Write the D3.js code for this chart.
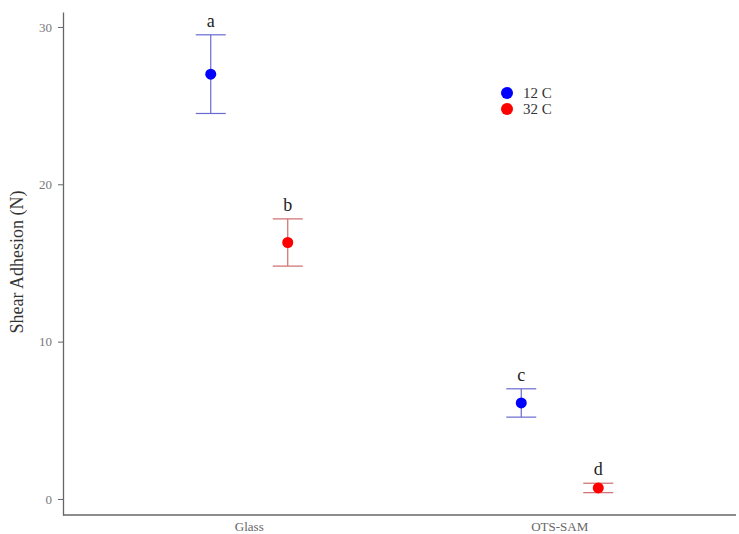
<!DOCTYPE html>
<html>
<head>
<meta charset="utf-8">
<script src="https://cdn.jsdelivr.net/npm/d3@7"></script>
<style>
  body { margin: 0; background: #fff; }
  svg { display: block; }
  text { font-family: "Liberation Serif", "Times New Roman", "DejaVu Serif", serif; }
</style>
</head>
<body>
<svg width="739" height="534"></svg>
<script>
var surfaces = ["Glass", "OTS-SAM"]
var temps = ["12 C", "32 C"]
var means = [[27.0, 16.3], [6.1, 0.7]]      // [surface][temp]
var upper = [[29.5, 17.8], [7.0, 1.0]]
var lower = [[24.5, 14.8], [5.2, 0.4]]
var letters = [["a", "b"], ["c", "d"]]
var yTicks = [0, 10, 20, 30]

var svg = d3.select("svg"),
    width = +svg.attr("width"),
    height = +svg.attr("height");

var serif = '"Liberation Serif", "Times New Roman", "DejaVu Serif", serif'
var dotColor = ["#0000ff", "#ff0000"]
var barColor = ["#6a6ad0", "#d06a6a"]

var x = d3.scalePoint().domain(surfaces).range([94, 715]).padding(0.5)
var dodge = d3.scalePoint().domain(temps).range([-38.5, 38.5])
var y = d3.scaleLinear().domain([-1.02, 30.95]).range([515, 12])

// flatten for drawing
var rows = []
surfaces.forEach(function (s, i) {
    temps.forEach(function (t, j) {
        rows.push({ s: s, t: t, j: j, m: means[i][j], hi: upper[i][j], lo: lower[i][j], lab: letters[i][j] })
    })
})

// y axis
var yAxis = svg.append("g")
    .attr("transform", "translate(63,0)")
    .call(d3.axisLeft(y).tickValues(yTicks).tickSize(5).tickSizeOuter(0).tickPadding(6))
yAxis.select(".domain").attr("stroke", "#666").attr("stroke-width", 1.3)
yAxis.selectAll(".tick line").attr("stroke", "#666")
yAxis.selectAll(".tick text")
    .attr("fill", "#777")
    .style("font-family", serif)
    .style("font-size", "13px")

// x axis line + labels
svg.append("line")
    .attr("x1", 63).attr("x2", 736)
    .attr("y1", y(-1.02)).attr("y2", y(-1.02))
    .attr("stroke", "#666").attr("stroke-width", 1.3)

svg.append("g").selectAll("text")
    .data(surfaces)
    .enter().append("text")
    .attr("x", d => x(d))
    .attr("y", 531)
    .attr("text-anchor", "middle")
    .attr("fill", "#666")
    .style("font-family", serif)
    .style("font-size", "13px")
    .text(d => d)

// y title
svg.append("text")
    .attr("transform", "translate(23," + 262 + ") rotate(-90)")
    .attr("text-anchor", "middle")
    .attr("fill", "#333")
    .style("font-family", serif)
    .style("font-size", "18px")
    .text("Shear Adhesion (N)")

// error bars
var eb = svg.append("g").selectAll("g")
    .data(rows)
    .enter().append("g")
    .attr("stroke", d => barColor[d.j])
    .attr("stroke-width", 1.2)
eb.append("line")
    .attr("x1", d => x(d.s) + dodge(d.t)).attr("x2", d => x(d.s) + dodge(d.t))
    .attr("y1", d => y(d.hi)).attr("y2", d => y(d.lo))
eb.append("line")
    .attr("x1", d => x(d.s) + dodge(d.t) - 15).attr("x2", d => x(d.s) + dodge(d.t) + 15)
    .attr("y1", d => y(d.hi)).attr("y2", d => y(d.hi))
eb.append("line")
    .attr("x1", d => x(d.s) + dodge(d.t) - 15).attr("x2", d => x(d.s) + dodge(d.t) + 15)
    .attr("y1", d => y(d.lo)).attr("y2", d => y(d.lo))

// points
svg.append("g").selectAll("circle")
    .data(rows)
    .enter().append("circle")
    .attr("cx", d => x(d.s) + dodge(d.t))
    .attr("cy", d => y(d.m))
    .attr("r", 5.5)
    .attr("fill", d => dotColor[d.j])

// significance letters
svg.append("g").selectAll("text")
    .data(rows)
    .enter().append("text")
    .attr("x", d => x(d.s) + dodge(d.t))
    .attr("y", d => y(d.hi) - 8)
    .attr("text-anchor", "middle")
    .attr("fill", "#222")
    .style("font-family", serif)
    .style("font-size", "18px")
    .text(d => d.lab)

// legend
var leg = svg.append("g").selectAll("g")
    .data(temps)
    .enter().append("g")
    .attr("transform", (d, i) => "translate(507," + (93 + i * 16) + ")")
leg.append("circle")
    .attr("r", 6)
    .attr("fill", (d, i) => dotColor[i])
leg.append("text")
    .attr("x", 16)
    .attr("y", 5)
    .attr("fill", "#333")
    .style("font-family", serif)
    .style("font-size", "15px")
    .text(d => d)
</script>
</body>
</html>
